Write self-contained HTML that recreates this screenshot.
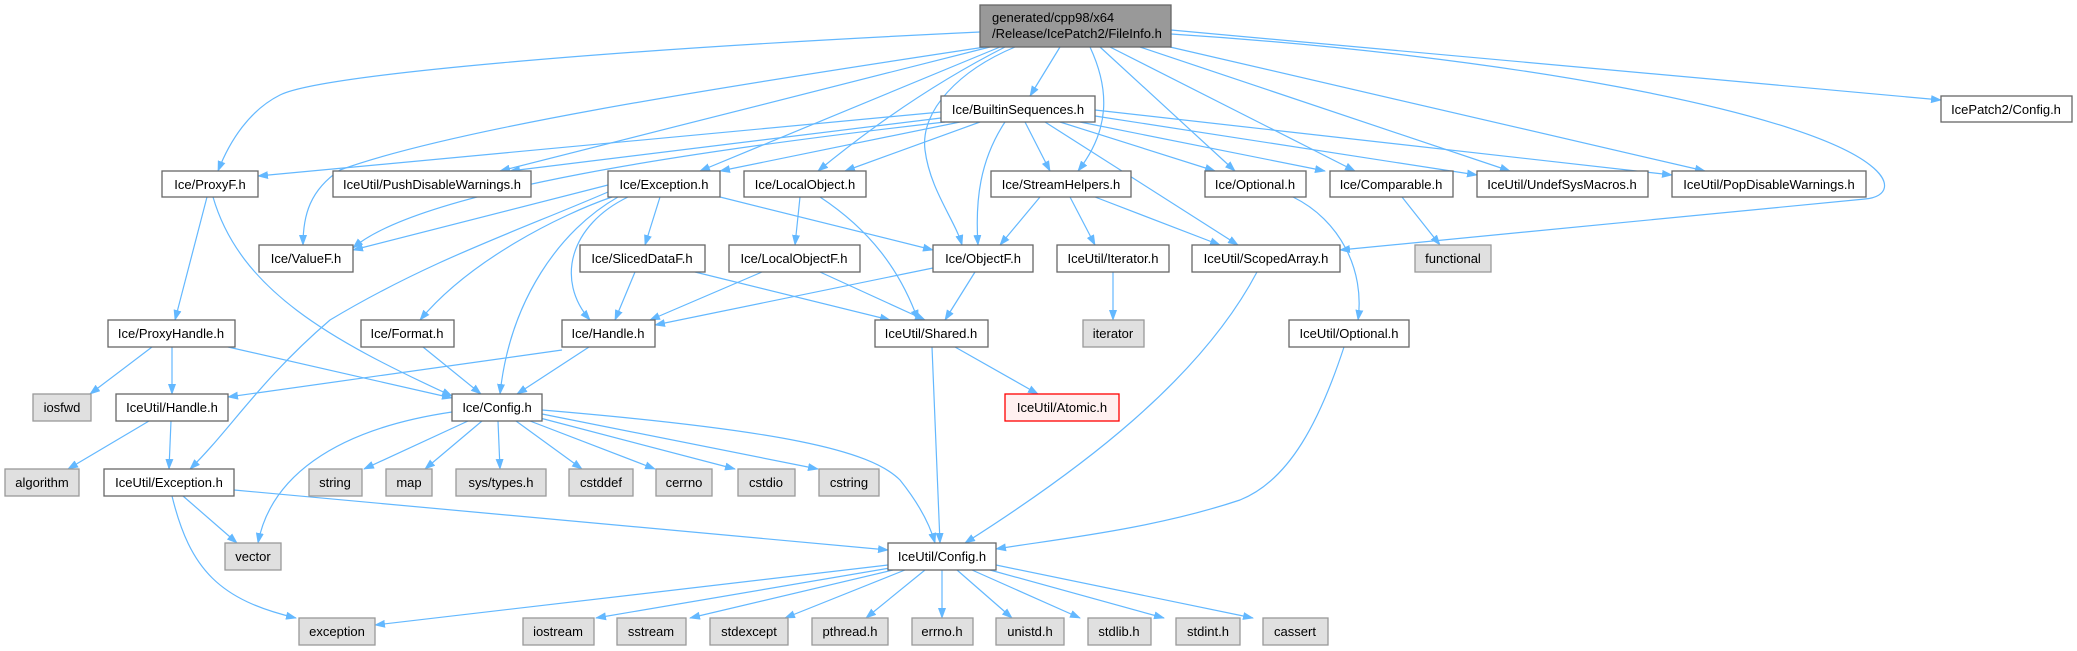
<!DOCTYPE html>
<html><head><meta charset="utf-8"><style>
html,body{margin:0;padding:0;background:#fff;}
svg{display:block;}
text{font-family:"Liberation Sans",Arial,sans-serif;font-size:13px;fill:#000;}
.n{fill:#fff;stroke:#666;stroke-width:1.3;}
.g{fill:#e0e0e0;stroke:#999;stroke-width:1.3;}
.e path{fill:none;stroke:#63b8ff;stroke-width:1.2;marker-end:url(#a);}
</style></head><body>
<svg width="2077" height="651" viewBox="0 0 2077 651" xmlns="http://www.w3.org/2000/svg">
<defs><marker id="a" markerUnits="userSpaceOnUse" markerWidth="11" markerHeight="8" refX="10" refY="4" orient="auto"><path d="M0,0 L11,4 L0,8 z" fill="#63b8ff"/></marker></defs>
<g class="e">
<!-- from top -->
<path d="M980,32 C600,50 320,75 280,95 C250,110 230,140 218,171"/>
<path d="M985,47 C700,90 450,130 340,170 C310,190 303,215 303,245"/>
<path d="M990,47 L500,171"/>
<path d="M1060,47 L1030,96"/>
<path d="M1000,47 L700,171"/>
<path d="M1005,47 C940,80 880,120 818,171"/>
<path d="M1015,47 C960,70 920,110 925,150 C930,190 955,220 962,245"/>
<path d="M1090,47 C1110,90 1110,130 1078,171"/>
<path d="M1100,47 L1235,171"/>
<path d="M1110,47 L1355,171"/>
<path d="M1140,47 L1510,171"/>
<path d="M1170,47 L1705,171"/>
<path d="M1171,30 L1941,100"/>
<path d="M1171,34 C1500,55 1800,110 1870,165 C1892,182 1888,197 1865,199 L1340,250"/>
<!-- from BuiltinSequences -->
<path d="M941,112 L258,176"/>
<path d="M941,118 L510,171"/>
<path d="M945,122 C700,150 420,190 353,248"/>
<path d="M960,122 L720,171"/>
<path d="M980,122 L845,171"/>
<path d="M1005,122 C980,160 975,200 978,245"/>
<path d="M1025,122 L1050,171"/>
<path d="M1045,122 L1238,245"/>
<path d="M1060,122 L1215,171"/>
<path d="M1080,122 L1325,171"/>
<path d="M1095,116 L1477,175"/>
<path d="M1095,110 L1672,175"/>
<!-- Exception -->
<path d="M608,185 L353,250"/>
<path d="M720,197 L933,250"/>
<path d="M660,197 L645,245"/>
<path d="M612,197 C560,215 470,260 420,320"/>
<path d="M628,197 C570,225 555,280 590,320"/>
<path d="M618,197 C560,230 510,300 500,394"/>
<path d="M608,192 C520,230 430,260 330,320 C260,380 230,430 190,469"/>
<!-- others -->
<path d="M207,197 L175,320"/>
<path d="M213,197 C240,290 330,340 452,396"/>
<path d="M800,197 L795,245"/>
<path d="M820,197 C870,230 900,270 918,320"/>
<path d="M1040,197 L1000,245"/>
<path d="M1070,197 L1095,245"/>
<path d="M1095,197 L1220,245"/>
<path d="M1402,197 L1440,245"/>
<path d="M1293,197 C1340,220 1365,270 1358,320"/>
<path d="M635,272 L615,320"/>
<path d="M695,272 L890,320"/>
<path d="M762,272 L650,320"/>
<path d="M820,272 L925,320"/>
<path d="M933,268 L655,325"/>
<path d="M975,272 L945,320"/>
<path d="M1113,272 L1113,320"/>
<path d="M1257,272 C1200,380 1080,470 965,543"/>
<path d="M152,347 L90,394"/>
<path d="M172,347 L172,394"/>
<path d="M228,347 L452,398"/>
<path d="M562,350 L228,397"/>
<path d="M589,347 L517,394"/>
<path d="M423,347 L481,394"/>
<path d="M149,421 L68,469"/>
<path d="M171,421 L169,469"/>
<path d="M468,421 L364,469"/>
<path d="M482,421 L425,469"/>
<path d="M498,421 L500,469"/>
<path d="M516,421 L582,469"/>
<path d="M530,421 L655,469"/>
<path d="M540,418 L735,469"/>
<path d="M542,414 L818,469"/>
<path d="M452,412 C330,430 270,480 258,543"/>
<path d="M542,410 C780,430 870,450 900,480 C920,505 930,525 935,543"/>
<path d="M955,347 L1038,394"/>
<path d="M932,347 L940,543"/>
<path d="M1344,347 C1320,420 1290,480 1240,500 C1150,530 1050,540 996,549"/>
<path d="M183,496 L237,543"/>
<path d="M172,496 C190,570 220,600 296,618"/>
<path d="M234,490 L888,550"/>
<path d="M888,565 L375,625"/>
<path d="M890,568 L596,618"/>
<path d="M893,570 L690,618"/>
<path d="M905,570 L785,618"/>
<path d="M925,570 L866,618"/>
<path d="M942,570 L942,618"/>
<path d="M957,570 L1012,618"/>
<path d="M972,570 L1080,618"/>
<path d="M990,570 L1164,618"/>
<path d="M996,565 L1253,618"/>
</g>
<!-- top node -->
<rect x="980" y="5" width="191" height="42" fill="#999" stroke="#666" stroke-width="1.3"/>
<text x="992" y="22">generated/cpp98/x64</text>
<text x="992" y="38">/Release/IcePatch2/FileInfo.h</text>
<g text-anchor="middle">
<!-- r1 -->
<rect class="n" x="941" y="96" width="154" height="26"/><text x="1018" y="114" text-anchor="middle">Ice/BuiltinSequences.h</text>
<rect class="n" x="1941" y="96" width="131" height="26"/><text x="2006" y="114" text-anchor="middle">IcePatch2/Config.h</text>
<!-- r2 -->
<rect class="n" x="162" y="171" width="96" height="26"/><text x="210" y="189" text-anchor="middle">Ice/ProxyF.h</text>
<rect class="n" x="333" y="171" width="198" height="26"/><text x="432" y="189" text-anchor="middle">IceUtil/PushDisableWarnings.h</text>
<rect class="n" x="608" y="171" width="112" height="26"/><text x="664" y="189" text-anchor="middle">Ice/Exception.h</text>
<rect class="n" x="744" y="171" width="122" height="26"/><text x="805" y="189" text-anchor="middle">Ice/LocalObject.h</text>
<rect class="n" x="991" y="171" width="140" height="26"/><text x="1061" y="189" text-anchor="middle">Ice/StreamHelpers.h</text>
<rect class="n" x="1205" y="171" width="101" height="26"/><text x="1255" y="189" text-anchor="middle">Ice/Optional.h</text>
<rect class="n" x="1330" y="171" width="123" height="26"/><text x="1391" y="189" text-anchor="middle">Ice/Comparable.h</text>
<rect class="n" x="1477" y="171" width="171" height="26"/><text x="1562" y="189" text-anchor="middle">IceUtil/UndefSysMacros.h</text>
<rect class="n" x="1672" y="171" width="194" height="26"/><text x="1769" y="189" text-anchor="middle">IceUtil/PopDisableWarnings.h</text>
<!-- r3 -->
<rect class="n" x="259" y="245" width="94" height="27"/><text x="306" y="263" text-anchor="middle">Ice/ValueF.h</text>
<rect class="n" x="580" y="245" width="125" height="27"/><text x="642" y="263" text-anchor="middle">Ice/SlicedDataF.h</text>
<rect class="n" x="729" y="245" width="131" height="27"/><text x="794" y="263" text-anchor="middle">Ice/LocalObjectF.h</text>
<rect class="n" x="933" y="245" width="100" height="27"/><text x="983" y="263" text-anchor="middle">Ice/ObjectF.h</text>
<rect class="n" x="1057" y="245" width="112" height="27"/><text x="1113" y="263" text-anchor="middle">IceUtil/Iterator.h</text>
<rect class="n" x="1192" y="245" width="148" height="27"/><text x="1266" y="263" text-anchor="middle">IceUtil/ScopedArray.h</text>
<rect class="g" x="1415" y="245" width="76" height="27"/><text x="1453" y="263" text-anchor="middle">functional</text>
<!-- r4 -->
<rect class="n" x="108" y="320" width="127" height="27"/><text x="171" y="338" text-anchor="middle">Ice/ProxyHandle.h</text>
<rect class="n" x="361" y="320" width="93" height="27"/><text x="407" y="338" text-anchor="middle">Ice/Format.h</text>
<rect class="n" x="562" y="320" width="93" height="27"/><text x="608" y="338" text-anchor="middle">Ice/Handle.h</text>
<rect class="n" x="875" y="320" width="113" height="27"/><text x="931" y="338" text-anchor="middle">IceUtil/Shared.h</text>
<rect class="g" x="1083" y="320" width="61" height="27"/><text x="1113" y="338" text-anchor="middle">iterator</text>
<rect class="n" x="1289" y="320" width="120" height="27"/><text x="1349" y="338" text-anchor="middle">IceUtil/Optional.h</text>
<!-- r5 -->
<rect class="g" x="33" y="394" width="58" height="27"/><text x="62" y="412" text-anchor="middle">iosfwd</text>
<rect class="n" x="116" y="394" width="112" height="27"/><text x="172" y="412" text-anchor="middle">IceUtil/Handle.h</text>
<rect class="n" x="452" y="394" width="90" height="27"/><text x="497" y="412" text-anchor="middle">Ice/Config.h</text>
<rect x="1005" y="394" width="114" height="27" fill="#fff0f0" stroke="#f00" stroke-width="1.3"/><text x="1062" y="412" text-anchor="middle">IceUtil/Atomic.h</text>
<!-- r6 -->
<rect class="g" x="5" y="469" width="74" height="27"/><text x="42" y="487" text-anchor="middle">algorithm</text>
<rect class="n" x="104" y="469" width="130" height="27"/><text x="169" y="487" text-anchor="middle">IceUtil/Exception.h</text>
<rect class="g" x="309" y="469" width="53" height="27"/><text x="335" y="487" text-anchor="middle">string</text>
<rect class="g" x="386" y="469" width="46" height="27"/><text x="409" y="487" text-anchor="middle">map</text>
<rect class="g" x="456" y="469" width="90" height="27"/><text x="501" y="487" text-anchor="middle">sys/types.h</text>
<rect class="g" x="569" y="469" width="64" height="27"/><text x="601" y="487" text-anchor="middle">cstddef</text>
<rect class="g" x="656" y="469" width="56" height="27"/><text x="684" y="487" text-anchor="middle">cerrno</text>
<rect class="g" x="738" y="469" width="57" height="27"/><text x="766" y="487" text-anchor="middle">cstdio</text>
<rect class="g" x="819" y="469" width="60" height="27"/><text x="849" y="487" text-anchor="middle">cstring</text>
<!-- r7 -->
<rect class="g" x="225" y="543" width="56" height="27"/><text x="253" y="561" text-anchor="middle">vector</text>
<rect class="n" x="888" y="543" width="108" height="27"/><text x="942" y="561" text-anchor="middle">IceUtil/Config.h</text>
<!-- r8 -->
<rect class="g" x="299" y="618" width="76" height="27"/><text x="337" y="636" text-anchor="middle">exception</text>
<rect class="g" x="523" y="618" width="71" height="27"/><text x="558" y="636" text-anchor="middle">iostream</text>
<rect class="g" x="617" y="618" width="69" height="27"/><text x="651" y="636" text-anchor="middle">sstream</text>
<rect class="g" x="710" y="618" width="78" height="27"/><text x="749" y="636" text-anchor="middle">stdexcept</text>
<rect class="g" x="812" y="618" width="76" height="27"/><text x="850" y="636" text-anchor="middle">pthread.h</text>
<rect class="g" x="912" y="618" width="61" height="27"/><text x="942" y="636" text-anchor="middle">errno.h</text>
<rect class="g" x="996" y="618" width="68" height="27"/><text x="1030" y="636" text-anchor="middle">unistd.h</text>
<rect class="g" x="1088" y="618" width="63" height="27"/><text x="1119" y="636" text-anchor="middle">stdlib.h</text>
<rect class="g" x="1176" y="618" width="64" height="27"/><text x="1208" y="636" text-anchor="middle">stdint.h</text>
<rect class="g" x="1263" y="618" width="65" height="27"/><text x="1295" y="636" text-anchor="middle">cassert</text>
</g>
</svg>
</body></html>
